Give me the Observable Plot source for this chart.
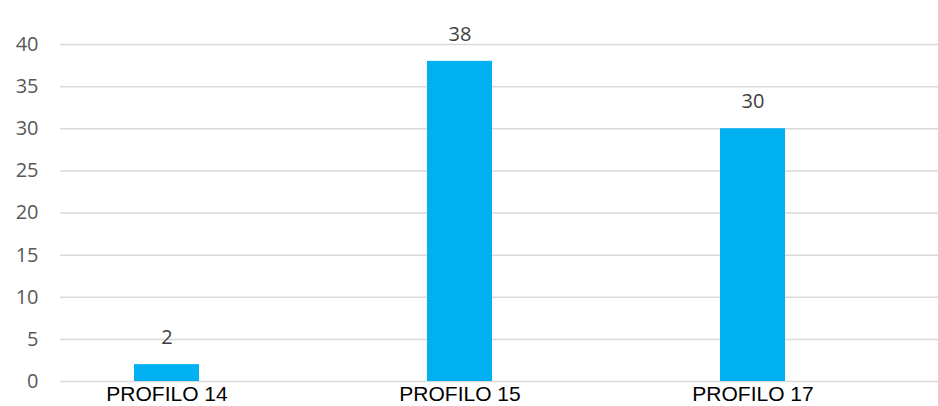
<!DOCTYPE html>
<html>
<head>
<meta charset="utf-8">
<script src="https://cdn.jsdelivr.net/npm/d3@7"></script>
<script src="https://cdn.jsdelivr.net/npm/@observablehq/plot@0.6"></script>
<style>
  html, body { margin: 0; padding: 0; background: #fff; }
</style>
</head>
<body>
<div id="chart"></div>
<script>
const categories = ["PROFILO 14", "PROFILO 15", "PROFILO 17"];
const values = [2, 38, 30];
const yTicks = [0, 5, 10, 15, 20, 25, 30, 35, 40];

const data = categories.map((c, i) => ({ category: c, value: values[i] }));

const chart = Plot.plot({
  width: 938,
  height: 406,
  marginLeft: 60,
  marginRight: 0,
  marginTop: 44,
  marginBottom: 25,
  style: { background: "#fff", overflow: "visible" },
  x: {
    domain: categories,
    range: [60, 858],
    paddingInner: 0.7785,
    paddingOuter: 0.2487,
    label: null
  },
  y: { domain: [0, 40], ticks: yTicks, label: null },
  marks: [
    Plot.gridY(yTicks, { stroke: "#d9d9d9", strokeOpacity: 1, strokeWidth: 1.5 }),
    Plot.axisY(yTicks, {
      tickSize: 0, tickPadding: 22, fill: "#595959",
      fontSize: 20, fontFamily: "Open Sans", label: null
    }),
    Plot.axisX({
      tickSize: 0, tickPadding: 5, fill: "#000",
      fontSize: 21, fontFamily: "Liberation Sans", label: null
    }),
    Plot.barY(data, { x: "category", y: "value", fill: "#00B0F0" }),
    Plot.text(data, {
      x: "category", y: "value", text: d => String(d.value),
      dy: -27, fill: "#404040", fontSize: 20, fontFamily: "Open Sans"
    })
  ]
});
document.getElementById("chart").appendChild(chart);
</script>
</body>
</html>
